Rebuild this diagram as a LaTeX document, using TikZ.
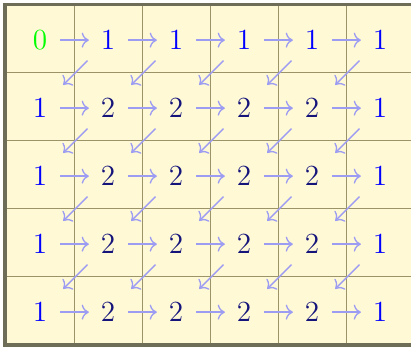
\documentclass[tikz,border=0pt]{standalone}
\usepackage[dvipsnames]{xcolor}
\definecolor{cell}{HTML}{FFF9D6}
\definecolor{rule}{HTML}{9C9468}
\definecolor{frame}{HTML}{6E6E58}
\definecolor{flow}{HTML}{9C9CF2}
\definecolor{deep}{HTML}{14147A}
\usepackage{tikz}
\usetikzlibrary{arrows.meta}
\tikzset{
  num/.style={minimum size=15pt,inner sep=0pt,font=\fontsize{11pt}{13pt}\selectfont,text=blue},
  farr/.style={->,draw=flow,line width=0.5pt,shorten >=-0.5pt},
  darr/.style={farr,shorten >=1.5pt},
  gline/.style={draw=rule,line width=0.5pt},
}

\begin{document}
\begin{tikzpicture}[x=0.9cm,y=0.9cm]
\useasboundingbox (-0.588,0.590) rectangle (5.456,-4.502);
\clip (-0.588,0.590) rectangle (5.456,-4.502);
% table background and rules
\fill[cell] (-0.515,0.524) rectangle (5.52,-4.48);
\foreach \x in {0.51,1.51,2.51,3.51,4.51}
  \draw[gline] (\x,0.524) -- (\x,-4.48);
\foreach \y in {0.48,1.48,2.48,3.48}
  \draw[gline] (-0.515,-\y) -- (5.52,-\y);
\draw[draw=frame,line width=1.4pt] (-0.515,0.524) rectangle (5.52,-4.48);
% entries
\node[num,text=green] (n-0-0) at (0,0) {0};
\foreach \i in {1,...,5}
  \node[num] (n-\i-0) at (\i,0) {1};
\foreach \j in {1,...,4} {
  \node[num] (n-0-\j) at (0,-\j) {1};
  \foreach \i in {1,...,4}
    \node[num,text=deep] (n-\i-\j) at (\i,-\j) {2};
  \node[num] (n-5-\j) at (5,-\j) {1};
}
% moves
\foreach \j in {0,...,4}
  \foreach \i in {0,...,4} {
    \pgfmathtruncatemacro\k{\i+1}
    \draw[farr] (n-\i-\j) -- (n-\k-\j);
  }
\foreach \j in {0,...,3}
  \foreach \i in {0,...,4} {
    \pgfmathtruncatemacro\k{\i+1}
    \pgfmathtruncatemacro\l{\j+1}
    \draw[darr] (n-\k-\j) -- (n-\i-\l);
  }
\end{tikzpicture}
\end{document}
